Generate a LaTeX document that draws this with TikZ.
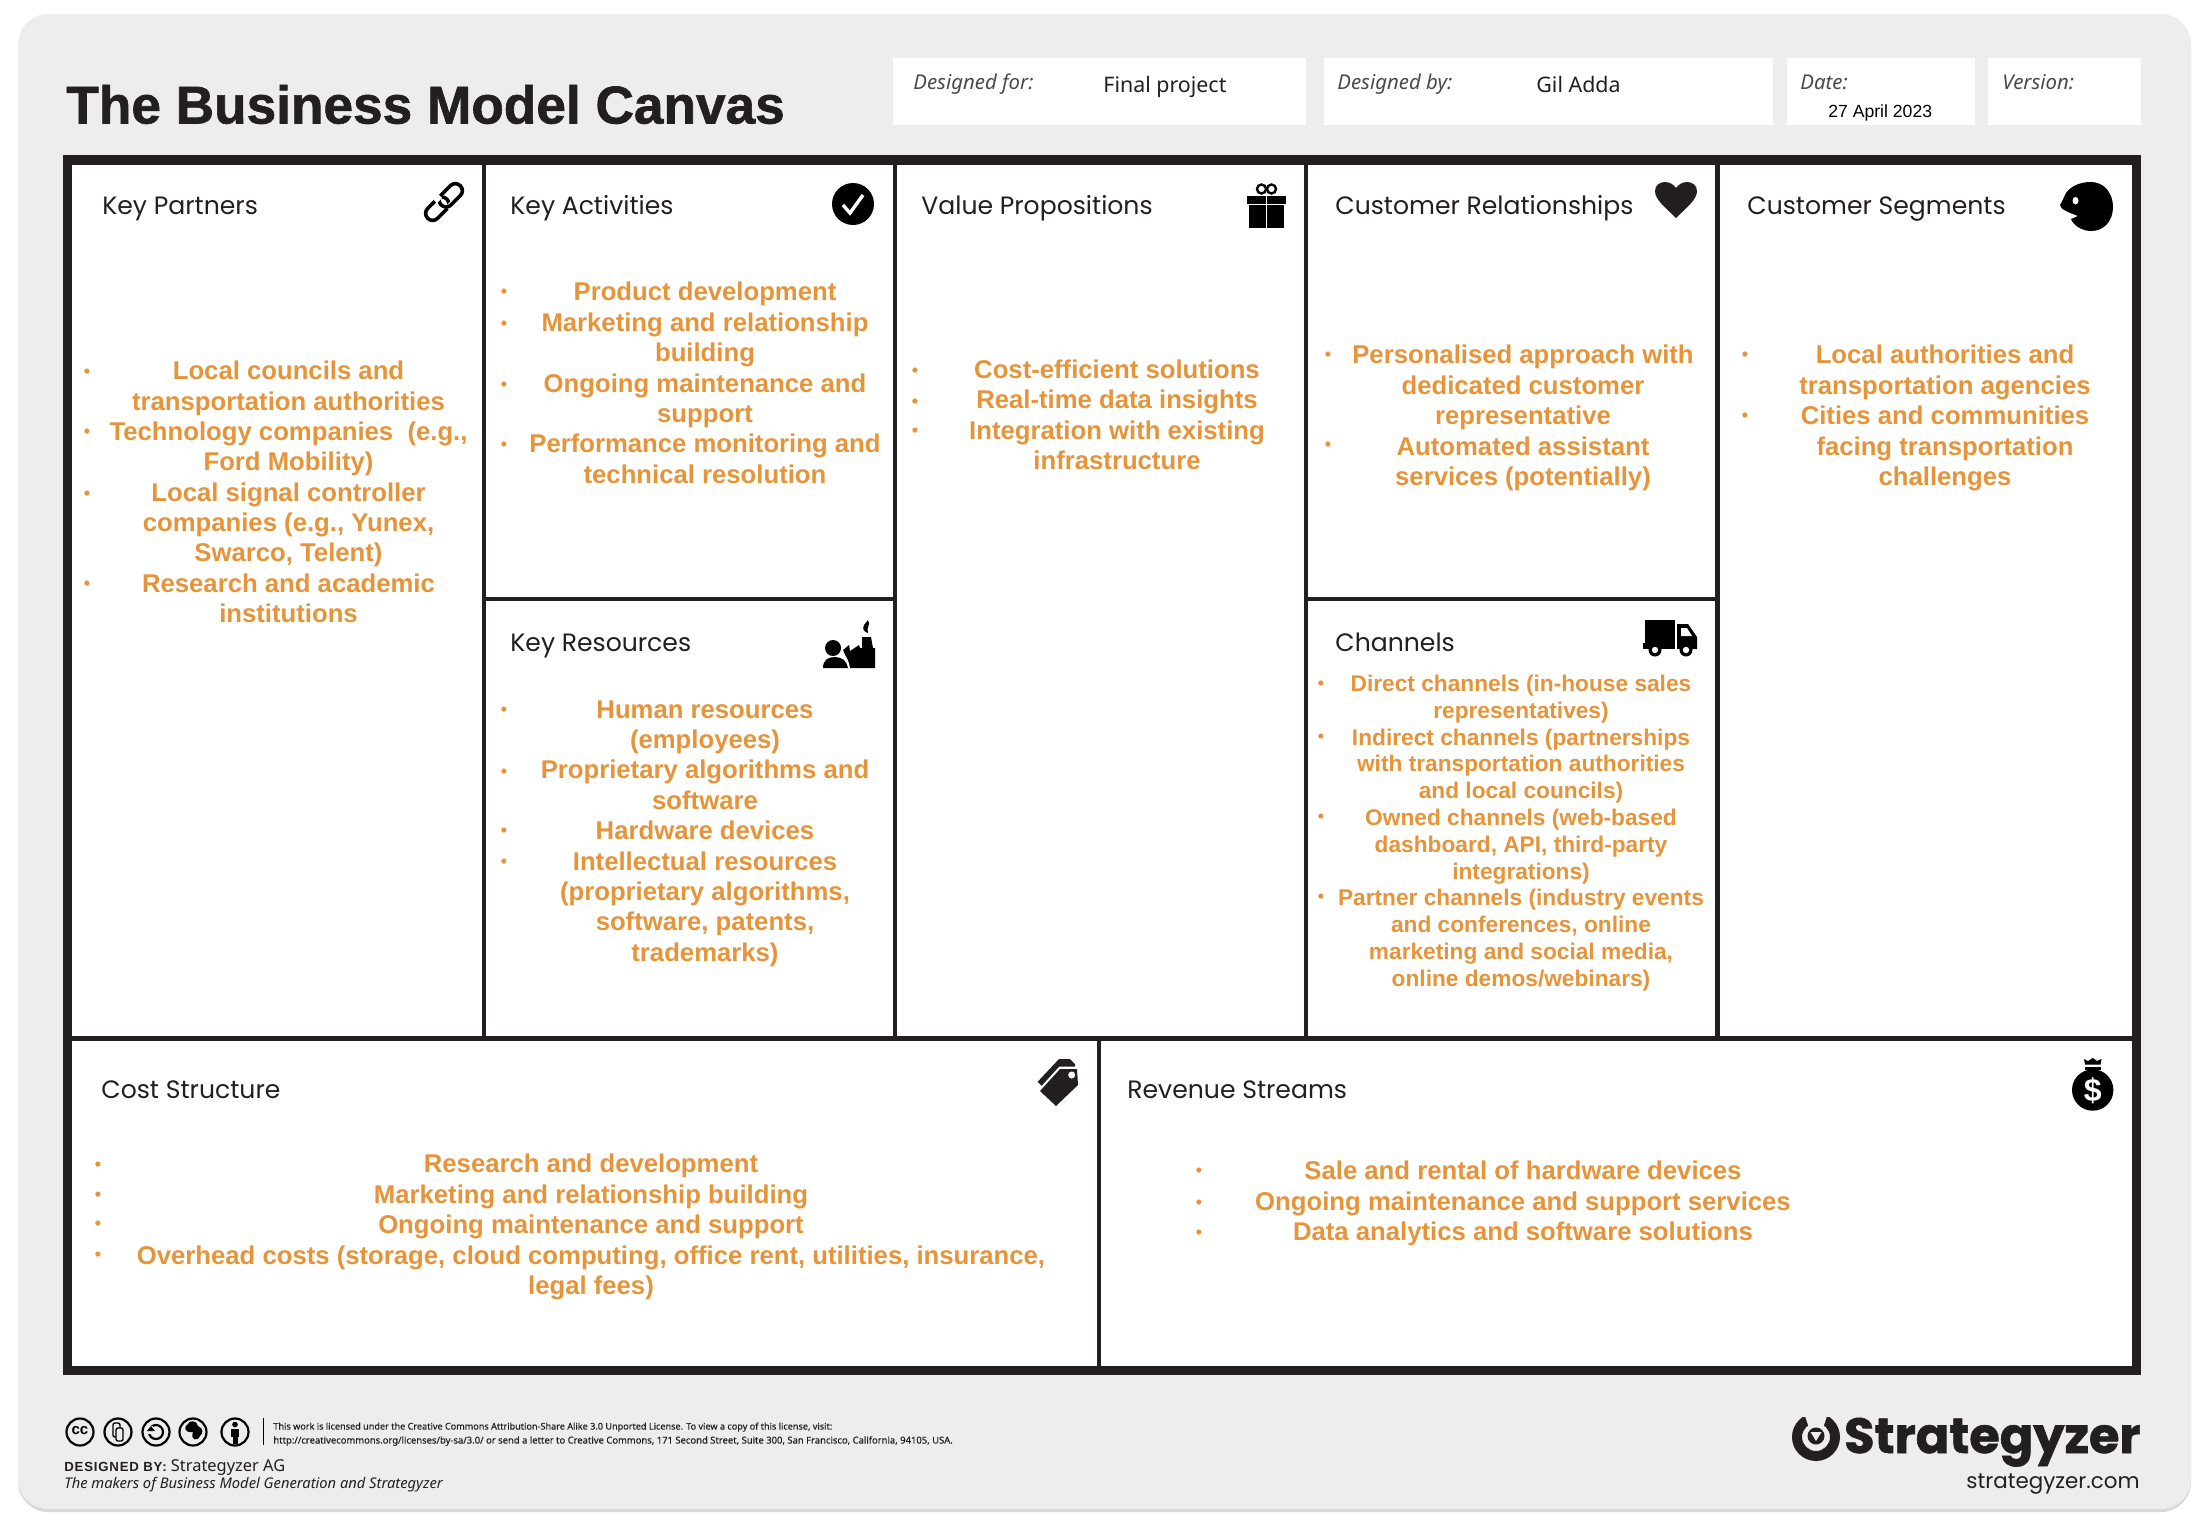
\documentclass[tikz,border=0pt]{standalone}
\usepackage{fontspec}
\setmainfont{Noto Sans}
\newfontfamily\heros{Liberation Sans}
\newfontfamily\pop{Poppins}
\newfontfamily\orafont{Liberation Sans Bold}
\newfontfamily\titlefont{Liberation Sans Bold}[FakeBold=1.2]
\newfontfamily\logofont{Poppins Bold}[FakeBold=1.2]
\newfontfamily\liccond{Noto Sans}[FakeBold=0.35]
\newfontfamily\dbyfont{Liberation Sans Bold}[LetterSpace=6]
\usetikzlibrary{shadows}
\definecolor{ink}{HTML}{231F20}
\definecolor{panel}{HTML}{EDEDEE}
\definecolor{ora}{HTML}{E6943A}
\definecolor{hdr}{HTML}{4A4A4A}
\tikzset{
  x=0.5pt,y=-0.5pt,
  cell/.style={fill=white,draw=none},
  heading/.style={anchor=base west,inner sep=0pt,text=ink,font=\pop\fontsize{12.55}{14}\selectfont},
  body/.style={inner sep=0pt,align=center,text=ora,font=\orafont\fontsize{12.85}{15.2}\selectfont},
  smallbody/.style={inner sep=0pt,align=center,text=ora,font=\orafont\fontsize{11.35}{13.4}\selectfont},
  blt/.style={inner sep=0pt,text=ora,font=\orafont\fontsize{9}{9}\selectfont},
  meta/.style={anchor=base west,inner sep=0pt,text=hdr,font=\itshape\fontsize{10.2}{11}\selectfont},
  val/.style={anchor=base west,inner sep=0pt,text=ink,font=\fontsize{10.7}{12}\selectfont},
  icon/.style={fill=black,draw=none},
  ccring/.style={draw=black,line width=1.1pt,fill=panel},
  foot/.style={anchor=base west,inner sep=0pt,text=ink}
}
\begin{document}
\begin{tikzpicture}
\useasboundingbox (0,0) rectangle (2202,1528);
\fill[white] (0,0) rectangle (2202,1528);
% panel
\fill[panel,rounded corners=15pt,drop shadow={opacity=.3,shadow xshift=0pt,shadow yshift=-1.5pt}] (18,14) rectangle (2191,1509);
% header boxes
\fill[white] (893,58) rectangle (1306,125);
\fill[white] (1324,58) rectangle (1773,125);
\fill[white] (1787,58) rectangle (1975,125);
\fill[white] (1988,58) rectangle (2141,125);
\node[anchor=base west,inner sep=0pt,text=ink,font=\titlefont\fontsize{26.6}{28}\selectfont] (title) at (66,123.5) {The Business Model Canvas};
\node[meta] (mfor) at (913,89) {Designed for:};
\node[val] (vfor) at (1103,92) {Final project};
\node[meta] (mby) at (1337,89) {Designed by:};
\node[val] (vby) at (1536,92) {Gil Adda};
\node[meta] (mdate) at (1800,89) {Date:};
\node[anchor=base west,inner sep=0pt,text=black,font=\heros\fontsize{8.8}{11}\selectfont] (vdate) at (1828,117) {27 April 2023};
\node[meta] (mver) at (2002,89) {Version:};
% frame and cells
\fill[ink] (63,155) rectangle (2141,1375);
\fill[cell] (72,165) rectangle (482,1036);
\fill[cell] (486,165) rectangle (893,597);
\fill[cell] (486,601) rectangle (893,1036);
\fill[cell] (897,165) rectangle (1304,1036);
\fill[cell] (1308,165) rectangle (1715,597);
\fill[cell] (1308,601) rectangle (1715,1036);
\fill[cell] (1720,165) rectangle (2132,1036);
\fill[cell] (72,1041) rectangle (1096.5,1366);
\fill[cell] (1100.5,1041) rectangle (2132,1366);
% headings
\node[heading] (hkp) at (102,214) {Key Partners};
\node[heading] (hka) at (510,214) {Key Activities};
\node[heading] (hvp) at (921,214) {Value Propositions};
\node[heading] (hcr) at (1335,214) {Customer Relationships};
\node[heading] (hcs) at (1747,214) {Customer Segments};
\node[heading] (hkr) at (510,651) {Key Resources};
\node[heading] (hch) at (1335,651) {Channels};
\node[heading] (hcost) at (101,1098.5) {Cost Structure};
\node[heading] (hrev) at (1127,1098.5) {Revenue Streams};
% bodies
\node[body] (kp) at (288.5,492) {Local councils and\\transportation authorities\\Technology companies\ \ (e.g.,\\Ford Mobility)\\Local signal controller\\companies (e.g., Yunex,\\Swarco, Telent)\\Research and academic\\institutions};
\node[body] (ka) at (705,383) {Product development\\Marketing and relationship\\building\\Ongoing maintenance and\\support\\Performance monitoring and\\technical resolution};
\node[body] (kr) at (705,833.5) {Human resources\\(employees)\\Proprietary algorithms and\\software\\Hardware devices\\Intellectual resources\\(proprietary algorithms,\\software, patents,\\trademarks)};
\node[body] (vp) at (1117,415) {Cost-efficient solutions\\Real-time data insights\\Integration with existing\\infrastructure};
\node[body] (cr) at (1523,418) {Personalised approach with\\dedicated customer\\representative\\Automated assistant\\services (potentially)};
\node[smallbody] (ch) at (1521,833) {Direct channels (in-house sales\\representatives)\\Indirect channels (partnerships\\with transportation authorities\\and local councils)\\Owned channels (web-based\\dashboard, API, third-party\\integrations)\\Partner channels (industry events\\and conferences, online\\marketing and social media,\\online demos/webinars)};
\node[body] (cs) at (1945,418) {Local authorities and\\transportation agencies\\Cities and communities\\facing transportation\\challenges};
\node[body] (cost) at (591,1227) {Research and development\\Marketing and relationship building\\Ongoing maintenance and support\\Overhead costs (storage, cloud computing, office rent, utilities, insurance,\\legal fees)};
\node[body] (rev) at (1523,1203.5) {Sale and rental of hardware devices\\Ongoing maintenance and support services\\Data analytics and software solutions};
% bullets
\foreach \n/\x/\y in {a1/87/373,a2/87/433,a3/87/495,a4/87/585,
  b1/504/293,b2/504/325,b3/504/386,b4/504/446,
  c1/504/711,c2/504/773,c3/504/832,c4/504/863,
  d1/915/372,d2/915/403,d3/915/432,
  e1/1328/356,e2/1328/446,
  f1/1321/685,f2/1321/738,f3/1321/818,f4/1321/898,
  g1/1745/356,g2/1745/417,
  h1/98/1166,h2/98/1196,h3/98/1225,h4/98/1256,
  i1/1199/1172,i2/1199/1204,i3/1199/1234}
  \node[blt] (bul\n) at (\x,\y) {•};
% link icon
\begin{scope}[shift={(444,202)},rotate=45]
  \draw[black,line width=1.8pt,rounded corners=3.4pt] (-23,-7) rectangle (4,7);
  \draw[white,line width=2.8pt] (-2,7) -- (7,7);
  \draw[black,line width=1.8pt,rounded corners=3.4pt] (-4,-7) rectangle (23,7);
  \draw[white,line width=2.8pt] (-7,-7) -- (1.5,-7);
  \draw[black,line width=1.8pt] (-10,-7) -- (-6,-7);
\end{scope}
% check icon
\fill[black] (853,204) circle[radius=21];
\draw[white,line width=1.7pt] (843,205) -- (850,213) -- (863,195);
% gift icon
\fill[icon] (1249,205) rectangle (1284,228);
\fill[icon] (1247,196) rectangle (1285.5,204);
\draw[black,line width=1.2pt] (1261.5,189) circle[radius=4.5];
\draw[black,line width=1.2pt] (1271.5,189) circle[radius=4.5];
\draw[white,line width=.5pt] (1266.5,196) -- (1266.5,228);
% heart icon
\fill[ink] (1676,218) .. controls (1666,208) and (1655,200) .. (1655,191) .. controls (1655,185) and (1660,182) .. (1665,182) .. controls (1670,182) and (1674,185) .. (1676,188) .. controls (1678,185) and (1682,182) .. (1687,182) .. controls (1692,182) and (1697,185) .. (1697,191) .. controls (1697,200) and (1686,208) .. (1676,218) -- cycle;
% face icon
\fill[black] (2091,182) .. controls (2104,182) and (2113,193) .. (2113,207) .. controls (2113,221) and (2104,231) .. (2091,231) .. controls (2082,231) and (2073,225) .. (2071,219) -- (2078,216) -- (2068,212) .. controls (2062,209) and (2060,208) .. (2060,205) .. controls (2063,200) and (2064,197) .. (2066,193) .. controls (2071,186) and (2080,182) .. (2091,182) -- cycle;
\fill[white] (2075.5,200.7) ellipse[x radius=3,y radius=3.8];
% factory icon
\fill[icon] (862,637) -- (871,637) -- (873,648) -- (875,648) -- (875,668) -- (848,668) .. controls (847,660) and (845,654) .. (843,650) -- (849,645) -- (850,651) -- (859,645) -- (860,648) -- (862,648) -- cycle;
\fill[white] (842,652) .. controls (846,655) and (849,661) .. (850,668) -- (847,668) .. controls (846,662) and (844,657) .. (840,654) -- cycle;
\fill[icon] (833,648) circle[radius=8];
\fill[icon] (823,668) .. controls (823,660) and (828,657) .. (835,657) .. controls (842,657) and (847,661) .. (848,668) -- cycle;
\fill[icon] (868,620) .. controls (871,625) and (866,627) .. (868,633) .. controls (864,632) and (862,629) .. (864,625) .. controls (865,623) and (867,622) .. (868,620) -- cycle;
% truck icon
\fill[icon] (1645,620) rectangle (1675,649);
\fill[icon] (1642.5,643) rectangle (1645,649);
\fill[icon] (1677,624) -- (1688,624) -- (1697,637) -- (1697,649) -- (1677,649) -- cycle;
\fill[white] (1681,628) -- (1687,628) -- (1692,636) -- (1681,636) -- cycle;
\foreach \wx in {1655,1686}{
  \fill[black] (\wx,650) circle[radius=6.5];
  \fill[white] (\wx,650) circle[radius=3.2];
}
% tag icon
\fill[ink] (1040,1091) -- (1060,1069) -- (1077,1069) -- (1078,1085) -- (1056,1106) -- cycle;
\fill[white] (1071.7,1075) circle[radius=3.5];
\fill[ink] (1037.7,1081.7) -- (1059,1059) -- (1070,1059) -- (1075,1064) -- (1075,1066.7) -- (1059,1066.7) -- (1041.7,1085.7) -- cycle;
% bag icon
\fill[black] (2092.7,1090) circle[radius=20.7];
\fill[black] (2085,1066.5) rectangle (2100.5,1070);
\fill[black] (2085,1064.5) -- (2084,1059) -- (2088,1061) -- (2092.7,1058) -- (2097,1061) -- (2101.5,1059) -- (2100.5,1064.5) -- cycle;
\node[inner sep=0pt,text=white,font=\orafont\fontsize{16}{18}\selectfont] (dollar) at (2092.7,1090.5) {\$};
% cc icons
\foreach \n/\cx in {cc/80,by/118,sa/156,nc/193,pd/235}
  \draw[ccring] (\cx,1432) circle[radius=13.5];
\node[inner sep=0pt,text=black,font=\orafont\fontsize{7.5}{8}\selectfont] (cctext) at (80,1431) {cc};
\draw[black,line width=.7pt,rounded corners=1pt] (113,1423) rectangle (120,1437);
\draw[black,fill=panel,line width=.7pt,rounded corners=1pt] (116,1428) rectangle (123,1441);
\draw[black,line width=1.1pt] (156,1432) circle[radius=7];
\fill[panel] (146,1426) rectangle (153,1434);
\fill[black] (147,1431) -- (155,1431) -- (151,1426) -- cycle;
\fill[black] (193,1432) .. controls (183,1433) and (184,1426) .. (188,1424) .. controls (189,1420) and (197,1420) .. (198,1426) .. controls (203,1428) and (204,1433) .. (200,1436) .. controls (197,1442) and (190,1440) .. (193,1432) -- cycle;
\fill[black] (235,1424.5) circle[radius=2.8];
\fill[black] (231,1429) rectangle (239,1437);
\fill[black] (232.5,1437) rectangle (237.5,1444);
\draw[black,line width=.35pt] (263,1418) -- (263,1445);
\node[foot,font=\liccond\fontsize{4.55}{6}\selectfont] (lic1) at (273,1429.5) {This work is licensed under the Creative Commons Attribution-Share Alike 3.0 Unported License. To view a copy of this license, visit:};
\node[foot,font=\liccond\fontsize{4.72}{6}\selectfont] (lic2) at (273,1443.5) {http://creativecommons.org/licenses/by-sa/3.0/ or send a letter to Creative Commons, 171 Second Street, Suite 300, San Francisco, California, 94105, USA.};
\node[foot,font=\fontsize{8.2}{9}\selectfont] (dby) at (64,1471) {{\dbyfont\fontsize{6.6}{9}\selectfont DESIGNED BY:} Strategyzer AG};
\node[foot,font=\itshape\fontsize{7.35}{8}\selectfont] (mk) at (64,1488) {The makers of Business Model Generation and Strategyzer};
% logo
\fill[ink,even odd rule] (1816,1437) circle[radius=24] (1816,1437) circle[radius=14];
\fill[panel] (1780,1405) rectangle (1850,1417);
\fill[panel] (1805,1416) -- (1827,1416) -- (1823,1428) -- (1809,1428) -- cycle;
\fill[ink] (1816,1436) circle[radius=8.5];
\fill[panel] (1810.5,1432) -- (1821.5,1432) -- (1816,1441) -- cycle;
\node[anchor=base east,inner sep=0pt,text=ink,font=\logofont\fontsize{24.7}{28}\selectfont] (logo) at (2141,1453) {Strategyzer};
\node[anchor=base east,inner sep=0pt,text=ink,font=\pop\fontsize{10.7}{12}\selectfont] (site) at (2140,1488) {strategyzer.com};
\end{tikzpicture}
\end{document}
